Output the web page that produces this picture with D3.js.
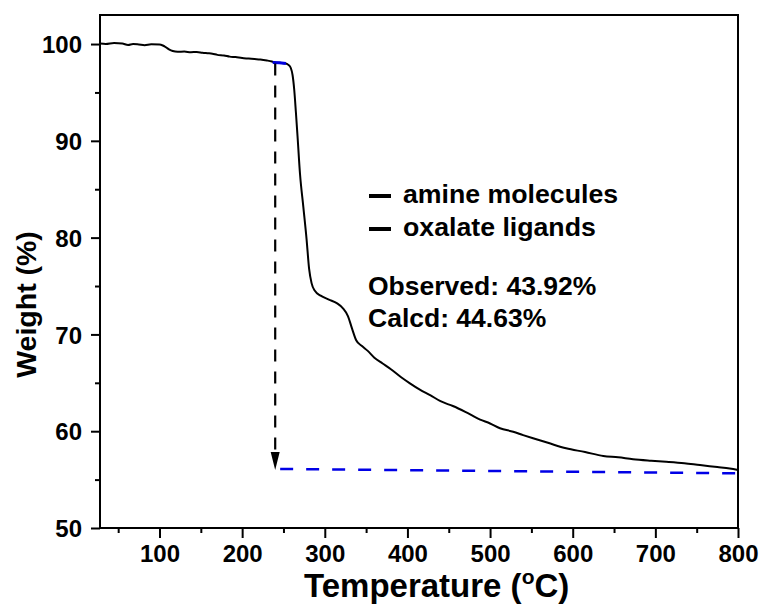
<!DOCTYPE html>
<html>
<head>
<meta charset="utf-8">
<script src="https://cdn.jsdelivr.net/npm/d3@7"></script>
<style>
  html, body { margin: 0; padding: 0; background: #fff; }
  svg { display: block; }
  text { font-family: "Liberation Sans", Arial, sans-serif; font-weight: bold; fill: #000; }
</style>
</head>
<body>
<svg id="chart" width="766" height="608"></svg>
<script>
// ---- Data ----
const temperature = [28, 35, 45, 55, 62, 68, 75, 82, 90, 100, 104, 108, 112, 116, 122, 130, 138, 145, 152, 158, 164, 170, 178, 185, 192, 200, 208, 215, 222, 230, 236, 240, 246, 252, 256, 259, 261, 263, 265, 267, 270, 274, 278, 281, 284, 288, 295, 305, 315, 322, 328, 333, 338, 345, 352, 360, 370, 380, 392, 403, 415, 428, 440, 455, 470, 488, 500, 512, 528, 540, 552, 570, 592, 615, 637, 655, 673, 695, 713, 735, 754, 775, 790, 800];
const weight = [100.05, 100.0, 100.1, 100.05, 99.9, 100.0, 99.95, 99.88, 99.97, 99.95, 99.85, 99.65, 99.42, 99.28, 99.2, 99.22, 99.15, 99.18, 99.1, 99.05, 99.0, 98.88, 98.82, 98.7, 98.65, 98.55, 98.5, 98.45, 98.4, 98.3, 98.2, 98.1, 98.06, 98.02, 97.85, 97.5, 96.8, 95.3, 93.0, 90.5, 86.6, 83.2, 79.8, 76.8, 75.3, 74.5, 74.0, 73.6, 73.2, 72.7, 71.9, 70.6, 69.4, 68.8, 68.3, 67.6, 67.0, 66.4, 65.6, 64.95, 64.3, 63.7, 63.1, 62.6, 62.0, 61.2, 60.8, 60.3, 59.95, 59.6, 59.27, 58.8, 58.23, 57.85, 57.44, 57.3, 57.1, 56.95, 56.85, 56.7, 56.5, 56.3, 56.15, 56.0];

// onset marker (blue solid) and residue baseline (blue dashed)
const onsetT = [237, 245, 253];
const onsetW = [98.08, 98.07, 98.0];
const residueT = [246, 800];
const residueW = [56.1, 55.65];
// vertical arrow
const arrowT = 240;
const arrowFromW = 98.0;
const arrowToW = 56.0;

const xMajorTicks = [100, 200, 300, 400, 500, 600, 700, 800];
const xMinorTicks = [50, 150, 250, 350, 450, 550, 650, 750];
const yMajorTicks = [50, 60, 70, 80, 90, 100];
const yMinorTicks = [55, 65, 75, 85, 95];

const legendLabels = ["amine molecules", "oxalate ligands"];
const resultLabels = ["Observed: 43.92%", "Calcd: 44.63%"];

// ---- Layout ----
const L = 100, R = 738, T = 15, B = 528;
const svg = d3.select("#chart");

const x = d3.scaleLinear().domain([28, 800]).range([L, R]);
const y = d3.scaleLinear().domain([50, 103]).range([B, T]);

// axes
const gx = svg.append("g").attr("transform", `translate(0,${B})`)
  .call(d3.axisBottom(x).tickValues(xMajorTicks).tickSize(10).tickPadding(7).tickFormat(d3.format("d")));
const gxm = svg.append("g").attr("transform", `translate(0,${B})`)
  .call(d3.axisBottom(x).tickValues(xMinorTicks).tickSize(5).tickFormat(""));
const gy = svg.append("g").attr("transform", `translate(${L},0)`)
  .call(d3.axisLeft(y).tickValues(yMajorTicks).tickSize(9).tickPadding(9).tickFormat(d3.format("d")));
const gym = svg.append("g").attr("transform", `translate(${L},0)`)
  .call(d3.axisLeft(y).tickValues(yMinorTicks).tickSize(5).tickFormat(""));

[gx, gxm, gy, gym].forEach(g => {
  g.select(".domain").remove();
  g.selectAll(".tick line").attr("stroke", "#000").attr("stroke-width", 2);
  g.selectAll(".tick text").style("font-size", "24px").attr("fill", "#000");
});
gy.selectAll(".tick text").attr("dy", "0.36em");
gx.selectAll(".tick text").attr("dy", "0.72em");

// frame
svg.append("rect").attr("x", L).attr("y", T).attr("width", R - L).attr("height", B - T)
  .attr("fill", "none").attr("stroke", "#000").attr("stroke-width", 2);

// TGA curve
const line = d3.line().x((d, i) => x(temperature[i])).y((d, i) => y(weight[i])).curve(d3.curveMonotoneX);
svg.append("path").datum(weight).attr("d", line)
  .attr("fill", "none").attr("stroke", "#000").attr("stroke-width", 2);

// onset marker
svg.append("path")
  .attr("d", d3.line()(onsetT.map((t, i) => [x(t), y(onsetW[i])])))
  .attr("fill", "none").attr("stroke", "#0000e0").attr("stroke-width", 3);

// residue dashed line
svg.append("path")
  .attr("d", d3.line()(residueT.map((t, i) => [x(t), y(residueW[i])])))
  .attr("fill", "none").attr("stroke", "#0000e6").attr("stroke-width", 2.5)
  .attr("stroke-dasharray", "13,13");

// vertical dashed arrow
const ax = x(arrowT), ay0 = y(arrowFromW), ay1 = y(arrowToW);
svg.append("line").attr("x1", ax).attr("x2", ax).attr("y1", ay0).attr("y2", ay1 - 16)
  .attr("stroke", "#000").attr("stroke-width", 2.2).attr("stroke-dasharray", "12,10");
svg.append("path")
  .attr("d", `M${ax - 4.5},${ay1 - 18} L${ax + 4.5},${ay1 - 18} L${ax},${ay1} Z`)
  .attr("fill", "#000");

// legend-like annotations
const legY = [196, 229];
legendLabels.forEach((t, i) => {
  svg.append("line").attr("x1", 369).attr("x2", 391).attr("y1", legY[i]).attr("y2", legY[i])
    .attr("stroke", "#000").attr("stroke-width", 4);
  svg.append("text").attr("x", 403).attr("y", legY[i] + 7).style("font-size", "26.7px").text(t);
});
const resY = [295, 327];
resultLabels.forEach((t, i) => {
  svg.append("text").attr("x", 368).attr("y", resY[i]).style("font-size", "26.5px").text(t);
});

// axis titles
const xt = svg.append("text").attr("x", 304).attr("y", 597).style("font-size", "33px");
xt.append("tspan").text("Temperature (");
xt.append("tspan").attr("dy", -13).style("font-size", "21px").text("o");
xt.append("tspan").attr("dy", 13).text("C)");

svg.append("text")
  .attr("transform", `translate(36,${(232 + 377) / 2}) rotate(-90)`)
  .attr("text-anchor", "middle").style("font-size", "28.5px").text("Weight (%)");
</script>
</body>
</html>
